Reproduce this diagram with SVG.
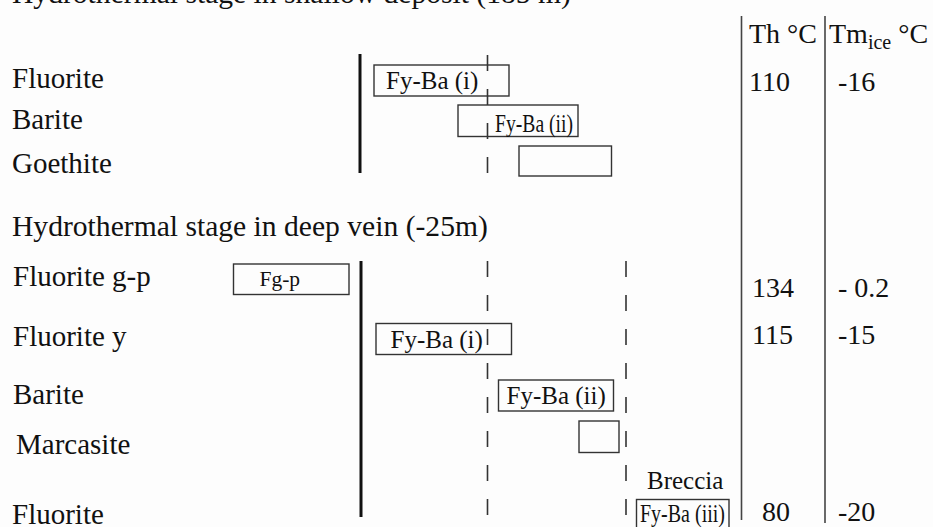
<svg xmlns="http://www.w3.org/2000/svg" width="933" height="527" viewBox="0 0 933 527">
<style>
text{font-family:"Liberation Serif","Times New Roman",serif;fill:#111}
.lbl{font-size:29px}
.num{font-size:28px}
.box{fill:none;stroke:#333;stroke-width:1.4}
.bt{font-size:25px}
.thick{stroke:#111;stroke-width:3}
.dash{stroke:#333;stroke-width:1.6;stroke-dasharray:16 18}
.col{stroke:#444;stroke-width:1.6}
</style>
<rect width="933" height="527" fill="#fdfdfd"/>
<g id="titles">
<text class="lbl" x="12" y="2.5" style="font-size:29.6px">Hydrothermal stage in shallow deposit (185 m)</text>
<text class="lbl" x="12" y="236" style="font-size:29.6px">Hydrothermal stage in deep vein (-25m)</text>
</g>
<g id="header">
<text class="num" x="749" y="43">Th °C</text>
<text class="num" x="829" y="43">Tm<tspan font-size="20" dy="6">ice</tspan><tspan dy="-6"> °C</tspan></text>
</g>
<g id="connectors">
<line class="thick" x1="360" y1="54" x2="360" y2="173"/>
<line class="thick" x1="361" y1="261" x2="361" y2="517"/>
<line class="dash" x1="487.5" y1="55" x2="487.5" y2="175"/>
<line class="dash" x1="487.5" y1="261" x2="487.5" y2="515"/>
<line class="dash" x1="626" y1="261" x2="626" y2="515"/>
<line class="col" x1="741.5" y1="16" x2="741.5" y2="520"/>
<line class="col" x1="825" y1="16" x2="825" y2="523"/>
</g>
<g id="shallow-fluorite">
<text class="lbl" x="12" y="88">Fluorite</text>
<rect class="box" x="374" y="65" width="135" height="31"/>
<text class="bt" x="386" y="89">Fy-Ba (i)</text>
<text class="num" x="749" y="90.5">110</text>
<text class="num" x="838" y="90.5">-16</text>
</g>
<g id="shallow-barite">
<text class="lbl" x="12" y="129">Barite</text>
<rect class="box" x="458" y="105" width="120" height="31.5"/>
<text class="bt" x="495" y="131.5" textLength="78" lengthAdjust="spacingAndGlyphs">Fy-Ba (ii)</text>
</g>
<g id="shallow-goethite">
<text class="lbl" x="12" y="173">Goethite</text>
<rect class="box" x="519" y="146" width="92.5" height="30"/>
</g>
<g id="deep-fluorite-gp">
<text class="lbl" x="13" y="286">Fluorite g-p</text>
<rect class="box" x="233.5" y="264" width="115.5" height="30.5"/>
<text x="259.5" y="285.5" style="font-size:21.5px">Fg-p</text>
<text class="num" x="752" y="296.5">134</text>
<text class="num" x="838" y="296.5">- 0.2</text>
</g>
<g id="deep-fluorite-y">
<text class="lbl" x="13" y="346">Fluorite y</text>
<rect class="box" x="376" y="323.5" width="135.5" height="31"/>
<text class="bt" x="390.5" y="347.5">Fy-Ba (i)</text>
<text class="num" x="752" y="344">115</text>
<text class="num" x="838" y="344">-15</text>
</g>
<g id="deep-barite">
<text class="lbl" x="13" y="404">Barite</text>
<rect class="box" x="498.5" y="380" width="115" height="31"/>
<text class="bt" x="506.5" y="404">Fy-Ba (ii)</text>
</g>
<g id="deep-marcasite">
<text class="lbl" x="16" y="454">Marcasite</text>
<rect class="box" x="579" y="421" width="40" height="31.5"/>
</g>
<g id="deep-fluorite-breccia">
<text class="lbl" x="12" y="523.5">Fluorite</text>
<text class="bt" x="647" y="488.5">Breccia</text>
<rect class="box" x="636.5" y="499.5" width="92.5" height="40"/>
<text x="640" y="521.5" style="font-size:26px" textLength="85" lengthAdjust="spacingAndGlyphs">Fy-Ba (iii)</text>
<text class="num" x="762" y="520.5">80</text>
<text class="num" x="838" y="520.5">-20</text>
</g>
</svg>
